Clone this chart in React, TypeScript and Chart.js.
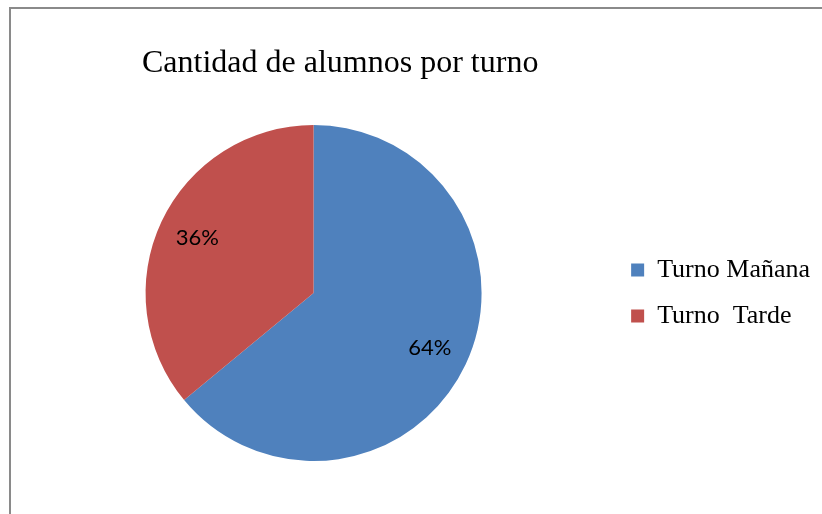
import React, { useEffect, useRef } from "react";
import { Chart, registerables } from "chart.js";

Chart.register(...registerables);

const titleText = "Cantidad de alumnos por turno";
const categories = ["Turno Mañana", "Turno  Tarde"];
const values = [64, 36];
const colors = ["#4F81BD", "#C0504D"];

const titlePlugin = {
  id: "sheetTitle",
  afterDraw(chart: any) {
    const ctx = chart.ctx;
    ctx.save();
    ctx.font = '32px "Liberation Serif", "Times New Roman", serif';
    ctx.fillStyle = "#000";
    ctx.textAlign = "left";
    ctx.textBaseline = "alphabetic";
    ctx.fillText(titleText, 142, 72);
    ctx.restore();
  },
};

const pctPlugin = {
  id: "pctLabels",
  afterDatasetsDraw(chart: any) {
    const ctx = chart.ctx;
    const meta = chart.getDatasetMeta(0);
    const data = chart.data.datasets[0].data as number[];
    const total = data.reduce((a, b) => a + b, 0);
    ctx.save();
    ctx.font = '22px Lato, "Noto Sans", sans-serif';
    ctx.fillStyle = "#000";
    ctx.textAlign = "center";
    ctx.textBaseline = "middle";
    meta.data.forEach((arc: any, i: number) => {
      const p = arc.getProps(["x", "y", "startAngle", "endAngle", "outerRadius"], true);
      const mid = (p.startAngle + p.endAngle) / 2;
      const r = p.outerRadius * 0.765;
      const x = p.x + Math.cos(mid) * r;
      const y = p.y + Math.sin(mid) * r;
      ctx.fillText(Math.round((data[i] / total) * 100) + "%", x, y);
    });
    ctx.restore();
  },
};

export default function App() {
  const ref = useRef<HTMLCanvasElement>(null);
  useEffect(() => {
    if (!ref.current) return;
    const chart = new Chart(ref.current, {
      type: "pie",
      data: {
        labels: categories,
        datasets: [
          {
            data: values,
            backgroundColor: colors,
            borderWidth: 0,
            hoverOffset: 0,
            hoverBorderWidth: 0,
            offset: 0,
          },
        ],
      },
      options: {
        responsive: false,
        animation: false,
        layout: { padding: { left: 16, right: 2, top: 125, bottom: 53 } },
        plugins: {
          title: { display: false },
          tooltip: { enabled: false },
          legend: {
            position: "right",
            fullSize: false,
            align: "center",
            labels: {
              boxWidth: 13,
              boxHeight: 13,
              padding: 20,
              color: "#000",
              font: { family: '"Liberation Serif", "Times New Roman", serif', size: 26 },
            },
          },
        },
      },
      plugins: [titlePlugin, pctPlugin],
    });
    return () => chart.destroy();
  }, []);
  return (
    <>
      <div
        style={{
          position: "absolute",
          left: 9,
          top: 7,
          width: 813,
          height: 507,
          boxSizing: "border-box",
          borderTop: "2px solid #8a8a8a",
          borderLeft: "2px solid #8a8a8a",
        }}
      />
      <canvas
        ref={ref}
        width={822}
        height={514}
        style={{ position: "absolute", left: 0, top: 0, width: 822, height: 514 }}
      />
    </>
  );
}
